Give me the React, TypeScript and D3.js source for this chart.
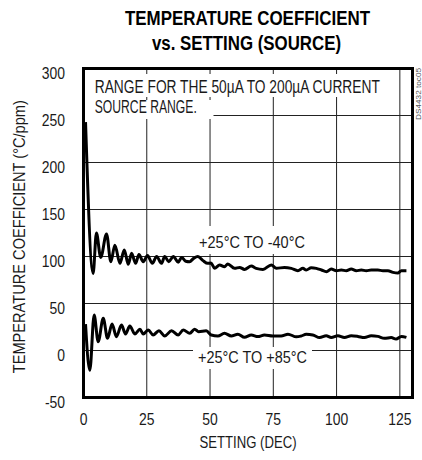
import React, { useLayoutEffect, useRef, useState } from "react";
import * as d3 from "d3";

const FONT = "'Liberation Sans', Arial, sans-serif";

const xTicks = [0, 25, 50, 75, 100, 125];
const yTicks = [-50, 0, 50, 100, 150, 200, 250, 300];

// +25°C TO -40°C
const coldX = [0.8, 3.8, 5.1, 6.8, 9.1, 10.8, 12.4, 14.4, 16.1, 17.7, 19.0, 20.6, 21.9, 23.6, 25.3, 27.2, 28.9, 30.8, 32.1, 33.7, 35.5, 37.4, 38.8, 40.4, 41.9, 43.5, 45.2, 47.2, 49.1, 50.4, 51.8, 53.8, 55.7, 57.0, 59.7, 61.7, 63.6, 66.3, 68.2, 70.9, 74.2, 76.2, 79.4, 82.1, 84.7, 86.7, 88.0, 90.0, 92.0, 94.0, 96.0, 97.9, 99.9, 101.9, 103.8, 105.8, 107.8, 109.8, 111.7, 113.7, 116.3, 118.3, 120.3, 122.3, 124.2, 125.6, 127.6];
const coldY = [243, 82, 125, 99, 124, 94.5, 112, 92.7, 107, 91.7, 103.4, 92.7, 102, 94.5, 101, 92.7, 100, 92.7, 100, 94.5, 100, 94, 99, 95, 94.5, 98, 100, 95.6, 92.7, 93, 87.4, 91, 89.2, 92, 87.4, 88.4, 86.3, 89.9, 87.4, 86.3, 91, 87.4, 88.4, 87.4, 84.9, 87.4, 85.6, 88.1, 87.4, 85.6, 83.8, 86.7, 84.9, 85.6, 84.9, 86.7, 84.9, 85.6, 84.9, 85.6, 85.6, 84.9, 84.9, 83.1, 82.4, 84.9, 84.9];

// +25°C TO +85°C
const hotX = [0.8, 2.5, 4.2, 5.8, 7.8, 9.5, 11.3, 13.0, 15.0, 16.6, 18.3, 20.3, 22.3, 23.6, 25.6, 27.5, 29.8, 32.1, 34.8, 37.4, 39.4, 42.0, 43.9, 45.5, 48.5, 50.5, 53.1, 55.7, 58.4, 61.0, 63.6, 66.3, 68.9, 71.5, 74.8, 78.1, 80.8, 84.1, 86.0, 88.0, 90.6, 93.3, 95.9, 97.9, 100.5, 103.1, 105.8, 108.4, 111.0, 113.7, 116.3, 118.9, 121.6, 123.5, 125.6, 127.6];
const hotY = [28, -21, 37.8, 9.4, 34.2, 13, 28.2, 14.7, 27, 17.6, 26, 17.6, 22.6, 17.6, 21.8, 16.5, 21, 15.4, 21, 16.5, 21.8, 18.3, 22.6, 20, 21, 16.5, 15.4, 18.3, 15.4, 17.4, 14, 16.5, 14.8, 16.5, 15.4, 15.4, 17.4, 14.5, 15.4, 17.2, 16.5, 13.7, 15.7, 13.7, 15.7, 13.7, 15.7, 15, 13.7, 15.7, 15, 13, 13.7, 12.2, 15, 14];

type FitProps = {
  x: number;
  y: number;
  width?: number;
  scale?: number;
  anchor?: "start" | "middle" | "end";
  size: number;
  weight?: string;
  fill?: string;
  rotate?: number;
  children: React.ReactNode;
};

function FitText({ x, y, width, scale, anchor = "start", size, weight = "normal", fill = "#1a1a1a", rotate = 0, children }: FitProps) {
  const ref = useRef<SVGTextElement>(null);
  const [s, setS] = useState(scale ?? 0.85);
  useLayoutEffect(() => {
    if (width && ref.current) {
      const w = ref.current.getComputedTextLength();
      if (w > 0) setS(width / w);
    }
  }, [width, children]);
  return (
    <g transform={`translate(${x},${y}) rotate(${rotate})`}>
      <text ref={ref} transform={`scale(${s},1)`} textAnchor={anchor} fontSize={size} fontWeight={weight} fill={fill} fontFamily={FONT}>
        {children}
      </text>
    </g>
  );
}

export default function App() {
  const left = 83.5, right = 412.5, top = 68.5, bottom = 397.5;
  const x = d3.scaleLinear().domain([0, 130]).range([left, right]);
  const y = d3.scaleLinear().domain([-50, 300]).range([bottom, top]);
  const mk = (xs: number[], ys: number[]) =>
    d3
      .line<[number, number]>()
      .x((d) => x(d[0]))
      .y((d) => y(d[1]))
      .curve(d3.curveMonotoneX)(xs.map((v, i) => [v, ys[i]] as [number, number])) || "";

  return (
    <svg width={422} height={460} style={{ position: "absolute", left: 0, top: 0, background: "#fff" }}>
      <rect x={0} y={0} width={422} height={460} fill="#fff" />
      {/* title */}
      <FitText x={247.5} y={25} anchor="middle" size={21} weight="bold" width={245} fill="#000">
        TEMPERATURE COEFFICIENT
      </FitText>
      <FitText x={246.5} y={50} anchor="middle" size={21} weight="bold" width={189} fill="#000">
        vs. SETTING (SOURCE)
      </FitText>

      {/* gridlines */}
      {xTicks.map((t) => (
        <line key={"gx" + t} x1={x(t)} x2={x(t)} y1={top} y2={bottom} stroke="#222" strokeWidth={1} />
      ))}
      {yTicks.map((t) => (
        <line key={"gy" + t} x1={left} x2={right} y1={y(t)} y2={y(t)} stroke="#222" strokeWidth={1} />
      ))}

      {/* label backgrounds */}
      <rect x={left} y={74} width={390 - left} height={23} fill="#fff" />
      <rect x={left} y={100} width={213.5 - left} height={19} fill="#fff" />
      <rect x={195} y={226} width={114} height={28} fill="#fff" />
      <rect x={193} y={347} width={119} height={22} fill="#fff" />

      <FitText x={94.7} y={92.7} size={18} width={285}>
        RANGE FOR THE 50µA TO 200µA CURRENT
      </FitText>
      <FitText x={94.7} y={112.7} size={18} width={102}>
        SOURCE RANGE.
      </FitText>
      <FitText x={199} y={247.5} size={17} width={106}>
        +25°C TO -40°C
      </FitText>
      <FitText x={198} y={363} size={17} width={109}>
        +25°C TO +85°C
      </FitText>

      {/* curves */}
      <path d={mk(coldX, coldY)} fill="none" stroke="#000" strokeWidth={3} strokeLinejoin="round" />
      <path d={mk(hotX, hotY)} fill="none" stroke="#000" strokeWidth={3} strokeLinejoin="round" />

      {/* frame */}
      <rect x={left} y={top} width={right - left} height={bottom - top} fill="none" stroke="#000" strokeWidth={3} />

      {/* tick labels */}
      {yTicks.map((t) => (
        <FitText key={"yl" + t} x={65} y={y(t) + 10} anchor="end" size={16} scale={0.87}>
          {String(t)}
        </FitText>
      ))}
      {xTicks.map((t) => (
        <FitText key={"xl" + t} x={x(t)} y={425} anchor="middle" size={16} scale={0.87}>
          {String(t)}
        </FitText>
      ))}

      <FitText x={248} y={448} anchor="middle" size={16} width={97}>
        SETTING (DEC)
      </FitText>
      <FitText x={25} y={236.7} anchor="middle" size={16} width={273} rotate={-90}>
        TEMPERATURE COEFFICIENT (°C/ppm)
      </FitText>
      <FitText x={420.5} y={120} size={8} width={52} rotate={-90} fill="#555">
        DS4432 toc05
      </FitText>
    </svg>
  );
}
